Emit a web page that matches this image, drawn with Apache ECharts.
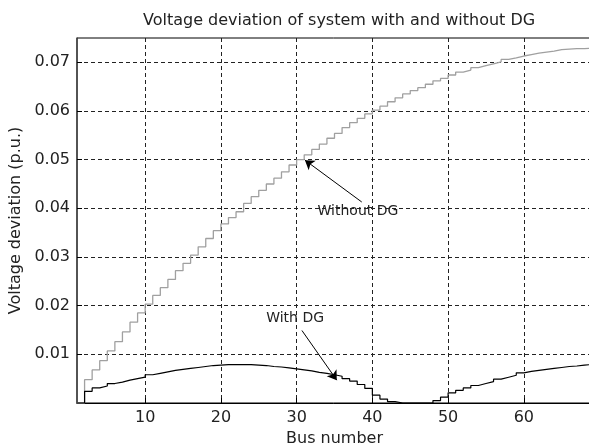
<!DOCTYPE html>
<html>
<head>
<meta charset="utf-8">
<script src="https://cdn.jsdelivr.net/npm/echarts@6/dist/echarts.min.js"></script>
<style>
    html,body{margin:0;padding:0;background:#fff;}
    #chart{width:589px;height:443px;}
</style>
</head>
<body>
<div id="chart"></div>
<script>
    // bus index along the feeder
    const busNumbers = [
        1,2,3,4,5,6,7,8,9,10,
        11,12,13,14,15,16,17,18,19,20,
        21,22,23,24,25,26,27,28,29,30,
        31,32,33,34,35,36,37,38,39,40,
        41,42,43,44,45,46,47,48,49,50,
        51,52,53,54,55,56,57,58,59,60,
        61,62,63,64,65,66,67,68,69
    ]
    // voltage deviation (p.u.) without DG
    const withoutDG = [
        0,.0048,.0068,.0087,.0107,.0126,.0146,.0166,.0185,.0203,
        .0221,.0237,.0254,.0272,.0287,.0304,.0321,.0338,.0354,.0368,
        .0381,.0393,.0410,.0424,.0437,.0450,.0462,.0475,.0489,.0500,
        .0510,.0521,.0532,.0544,.0554,.0566,.0576,.0585,.0594,.0602,
        .0610,.0619,.0627,.0635,.0642,.0648,.0655,.0662,.0667,.0674,
        .0680,.0684,.0689,.0693,.0697,.0701,.0706,.0709,.0713,.0716,
        .0719,.0721,.0723,.0726,.0727,.0728,.0728,.0729,.0729
    ]
    // voltage deviation (p.u.) with DG
    const withDG = [
        0,.0024,.0031,.0035,.0040,.0043,.0047,.0050,.0053,.0058,
        .0061,.0064,.0067,.0069,.0071,.0073,.0075,.0077,.0078,.0079,
        .0079,.0079,.0079,.0078,.0077,.0075,.0074,.0072,.0070,.0068,
        .0066,.0063,.0061,.0058,.0055,.0050,.0045,.0038,.0030,.0016,
        .0008,.0003,0,0,0,0,0,.0005,.0012,.0021,
        .0026,.0031,.0036,.0040,.0044,.0049,.0053,.0057,.0062,.0065,
        .0067,.0069,.0071,.0073,.0075,.0076,.0078,.0079,.0079
    ]
    const xTicks = [10,20,30,40,50,60]
    const yTicks = [0.01,0.02,0.03,0.04,0.05,0.06,0.07]

    const font = 'DejaVu Sans'
    const gridDash = {color:'#222',type:[4,3],width:1}

    const chartInstance = echarts.init(document.getElementById('chart'))

    const initOption = {
        animation:false,
        backgroundColor:'#fff',
        textStyle:{fontFamily:font},
        title:{
            text:'Voltage deviation of system with and without DG',
            left:138,
            top:8,
            textStyle:{fontSize:16,fontWeight:'normal',color:'#222',fontFamily:font}
        },
        grid:{
            left:77,
            top:38,
            right:-3,
            bottom:40,
            containLabel:false,
            outerBoundsMode:'none',
            show:true,
            borderColor:'#000',
            borderWidth:1
        },
        xAxis:{
            type:'value',
            min:1,
            max:69,
            name:'Bus number',
            nameLocation:'middle',
            nameGap:28,
            nameTextStyle:{fontSize:16,color:'#222',fontFamily:font},
            axisLine:{lineStyle:{color:'#000',width:1}},
            axisTick:{inside:true,length:5,customValues:xTicks,lineStyle:{color:'#000'}},
            axisLabel:{customValues:xTicks,fontSize:16,color:'#222',margin:7},
            splitLine:{show:true,lineStyle:gridDash}
        },
        yAxis:{
            type:'value',
            min:0,
            max:0.075,
            name:'Voltage deviation (p.u.)',
            nameLocation:'middle',
            nameGap:49,
            nameTextStyle:{fontSize:16,color:'#222',fontFamily:font},
            axisLine:{show:true,lineStyle:{color:'#444',width:1.5}},
            axisTick:{inside:true,length:5,customValues:yTicks,lineStyle:{color:'#000'}},
            axisLabel:{
                customValues:yTicks,
                fontSize:16,
                color:'#222',
                margin:7,
                formatter:(v) => v.toFixed(2)
            },
            splitLine:{show:true,lineStyle:gridDash}
        },
        series:[
            {
                name:'Without DG',
                type:'line',
                step:'end',
                showSymbol:false,
                data:busNumbers.map((b,i) => [b,withoutDG[i]]),
                lineStyle:{color:'#a0a0a0',width:1.3},
                markLine:{
                    silent:true,
                    symbol:['none','arrow'],
                    symbolSize:9,
                    label:{show:false},
                    lineStyle:{color:'#000',width:1,type:'solid'},
                    data:[[{coord:[38.6,0.0413]},{coord:[31.1,0.0499]}]]
                },
                markPoint:{
                    silent:true,
                    symbol:'circle',
                    symbolSize:1,
                    itemStyle:{color:'transparent'},
                    label:{show:true,position:'inside',formatter:'Without DG',fontSize:14,color:'#222',fontFamily:font},
                    data:[{coord:[38.1,0.0393]}]
                }
            },
            {
                name:'With DG',
                type:'line',
                step:'end',
                showSymbol:false,
                data:busNumbers.map((b,i) => [b,withDG[i]]),
                lineStyle:{color:'#000',width:1.2},
                markLine:{
                    silent:true,
                    symbol:['none','arrow'],
                    symbolSize:9,
                    label:{show:false},
                    lineStyle:{color:'#000',width:1,type:'solid'},
                    data:[[{coord:[30.7,0.0149]},{coord:[35.3,0.0047]}]]
                },
                markPoint:{
                    silent:true,
                    symbol:'circle',
                    symbolSize:1,
                    itemStyle:{color:'transparent'},
                    label:{show:true,position:'inside',formatter:'With DG',fontSize:14,color:'#222',fontFamily:font},
                    data:[{coord:[29.8,0.0174]}]
                }
            }
        ]
    }

    chartInstance.setOption(initOption)
</script>
</body>
</html>
